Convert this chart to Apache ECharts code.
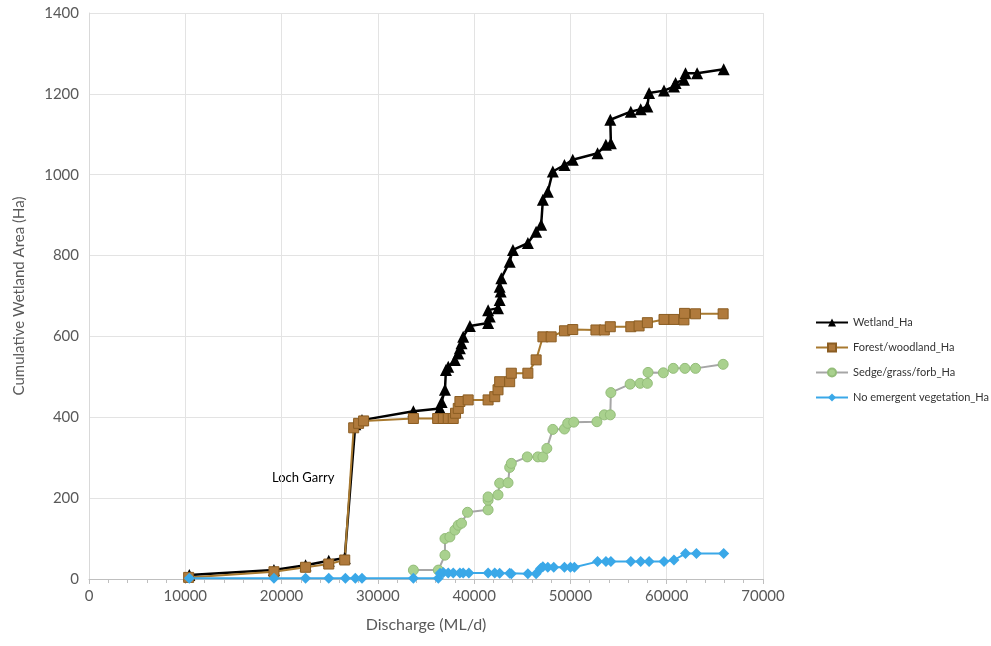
<!DOCTYPE html>
<html>
<head>
<meta charset="utf-8">
<script src="https://cdn.jsdelivr.net/npm/echarts@6/dist/echarts.min.js"></script>
<style>
html,body{margin:0;padding:0;background:#fff;}
#chart{width:991px;height:646px;}
</style>
</head>
<body>
<div id="chart"></div>
<script>
// [discharge ML/d, cumulative area Ha]
var wetland = [
  [10420,10],[19210,22],[22490,34],[24900,45],[26560,52],[27660,383],[28350,393],
  [33690,415],[36450,422],[36620,438],[36970,468],[37070,517],[37310,525],[38000,542],
  [38350,558],[38520,571],[38690,583],[38860,599],[39560,626],[41450,633],[41620,649],
  [41450,665],[42480,670],[42650,690],[42760,711],[42650,723],[42820,744],[43690,785],
  [44030,814],[45580,831],[46440,859],[46960,876],[47140,938],[47650,958],[48170,1008],
  [49380,1024],[50240,1037],[52820,1053],[53680,1074],[54200,1078],[54140,1136],
  [56270,1156],[57300,1162],[57990,1169],[58170,1202],[59720,1208],[60750,1218],
  [60920,1227],[61790,1235],[61950,1251],[63160,1251],[65920,1261]
];
var forest = [
  [10350,4],[19210,18],[22490,29],[24900,37],[26560,47],[27490,374],[28000,385],[28520,391],
  [33690,397],[36210,397],[36800,397],[37310,397],[37830,397],[38070,410],[38350,422],
  [38520,439],[39380,443],[41450,443],[42140,451],[42480,468],[42650,488],[43690,488],
  [43860,509],[45580,509],[46440,542],[47140,599],[48000,599],[49380,614],[50240,617],
  [52650,616],[53520,616],[54140,624],[56270,624],[57130,626],[57990,634],[59720,642],
  [60750,642],[61790,641],[61850,657],[62990,656],[65860,656]
];
var sedge = [
  [33690,22],[36280,22],[36970,59],[36970,100],[37480,104],[38000,121],[38350,133],
  [38690,138],[39310,165],[41450,171],[41450,195],[41450,203],[42480,208],[42650,237],
  [43520,238],[43690,276],[43860,286],[45520,302],[46620,302],[47140,302],[47550,323],
  [48170,370],[49380,371],[49720,385],[50340,388],[52750,389],[53520,406],[54140,406],
  [54200,461],[56200,482],[57240,484],[57990,484],[58060,511],[59650,510],[60680,521],
  [61890,521],[62990,521],[65860,531]
];
var noVeg = [
  [10420,2],[19210,2],[22490,2],[24900,2],[26630,2],[27660,2],[28350,2],[33690,2],
  [36280,2],[36460,14],[36800,16],[37310,15],[37830,15],[38520,15],[38860,15],[39450,15],
  [41450,15],[42140,15],[42650,14],[43690,14],[43860,13],[45580,13],[46440,13],[46900,26],
  [47140,30],[47650,29],[48270,29],[49380,29],[50000,29],[50410,29],[52820,43],[53690,43],
  [54200,43],[56270,43],[57300,43],[58170,43],[59720,43],[60750,47],[61950,63],[63090,63],
  [65920,63]
];
var seriesNames = ['Wetland_Ha','Forest/woodland_Ha','Sedge/grass/forb_Ha','No emergent vegetation_Ha'];

var chart = echarts.init(document.getElementById('chart'));
var font = 'Lato, "Open Sans", sans-serif';
var plain = function (v) { return String(v); };
var option = {
  backgroundColor: '#fff',
  animation: false,
  textStyle: {fontFamily: font},
  grid: {left: 89, right: 228, top: 13, bottom: 67},
  legend: {
    orient: 'vertical',
    left: 810,
    top: 312,
    itemGap: 14,
    itemWidth: 32,
    itemHeight: 10,
    textStyle: {fontSize: 11, color: '#333', fontFamily: font},
    data: seriesNames
  },
  xAxis: {
    type: 'value',
    min: 0, max: 70000, interval: 10000,
    name: 'Discharge (ML/d)',
    nameLocation: 'middle',
    nameGap: 38,
    nameTextStyle: {fontSize: 16, color: '#595959'},
    axisLine: {lineStyle: {color: '#bfbfbf'}},
    axisTick: {show: true, length: 5, lineStyle: {color: '#bfbfbf'}},
    minorTick: {show: true, splitNumber: 5, length: 4, lineStyle: {color: '#bfbfbf'}},
    axisLabel: {fontSize: 15, color: '#595959', margin: 10, formatter: plain},
    splitLine: {lineStyle: {color: '#e3e3e3'}}
  },
  yAxis: {
    type: 'value',
    min: 0, max: 1400, interval: 200,
    name: 'Cumulative Wetland Area (Ha)',
    nameLocation: 'middle',
    nameGap: 62,
    nameTextStyle: {fontSize: 15, color: '#595959'},
    axisLine: {show: true, lineStyle: {color: '#d9d9d9'}},
    axisTick: {show: false},
    axisLabel: {fontSize: 15, color: '#595959', margin: 10, formatter: plain},
    splitLine: {lineStyle: {color: '#e3e3e3'}}
  },
  graphic: [{
    type: 'text',
    left: 272, top: 471,
    style: {text: 'Loch Garry', fontSize: 13, fill: '#000', fontFamily: font}
  }],
  series: [
    {
      name: seriesNames[0], type: 'line', data: wetland,
      symbol: 'triangle', symbolSize: 12,
      lineStyle: {color: '#000', width: 2.5},
      itemStyle: {color: '#000'}
    },
    {
      name: seriesNames[1], type: 'line', data: forest,
      symbol: 'rect', symbolSize: 10,
      lineStyle: {color: '#a8792f', width: 2},
      itemStyle: {color: '#b07a3c', borderColor: '#8b5d22', borderWidth: 1}
    },
    {
      name: seriesNames[2], type: 'line', data: sedge,
      symbol: 'circle', symbolSize: 10,
      lineStyle: {color: '#a6a6a6', width: 2},
      itemStyle: {color: '#a9d18e', borderColor: '#94bd7a', borderWidth: 1}
    },
    {
      name: seriesNames[3], type: 'line', data: noVeg,
      symbol: 'diamond', symbolSize: 11,
      lineStyle: {color: '#3aa8e8', width: 2},
      itemStyle: {color: '#3aa8e8'}
    }
  ]
};
chart.setOption(option);
</script>
</body>
</html>
